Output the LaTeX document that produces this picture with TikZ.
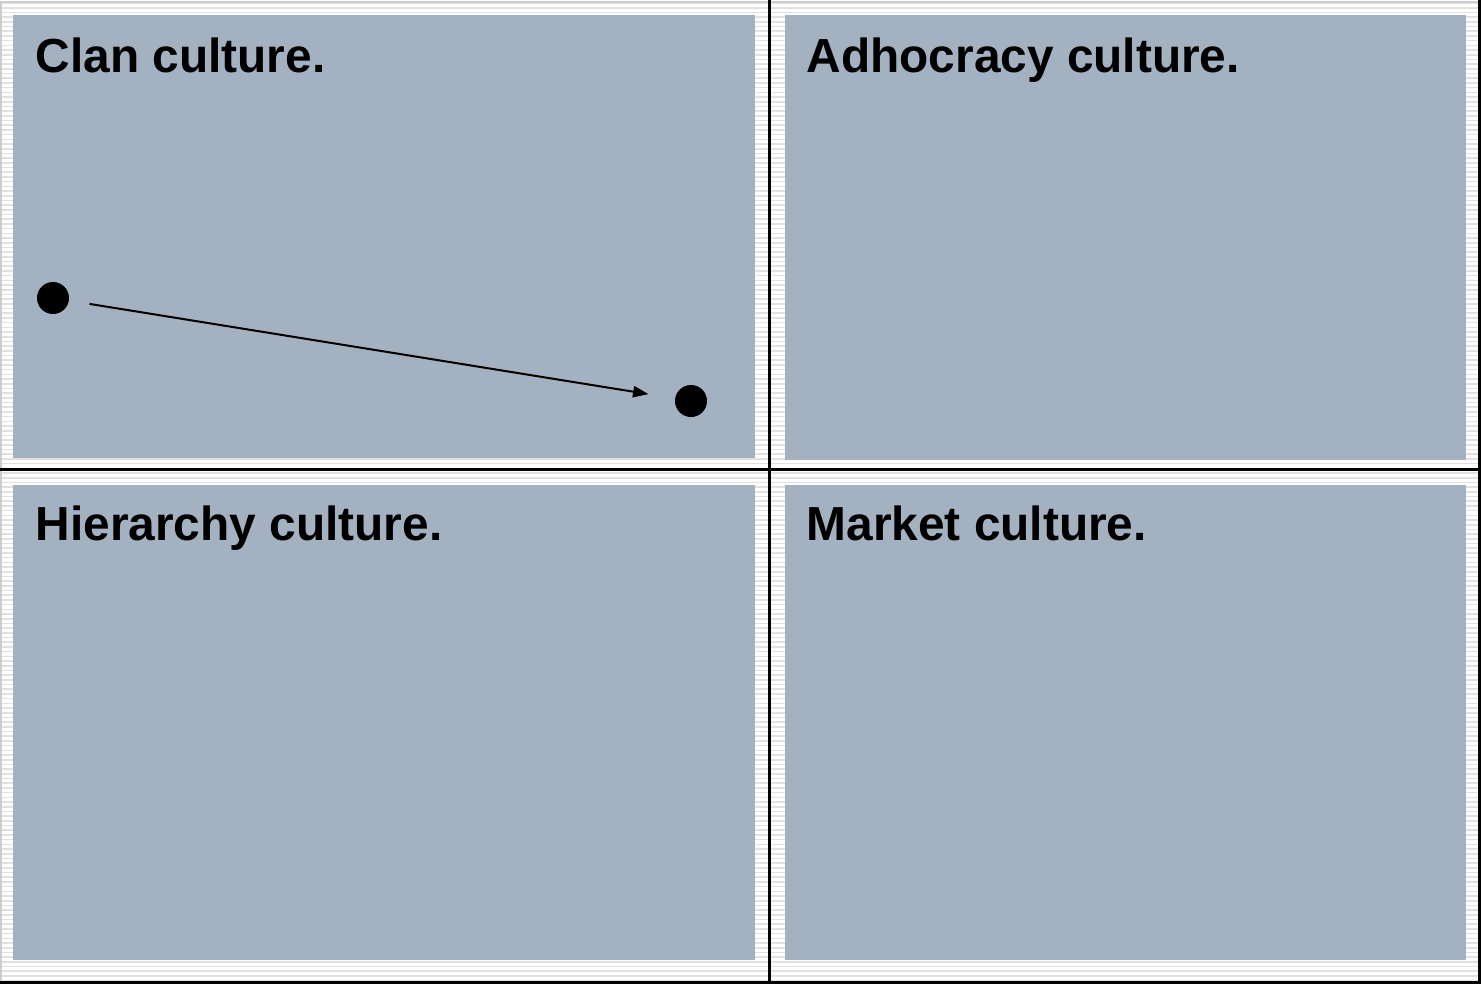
\documentclass[tikz,border=0pt]{standalone}
\usepackage{fontspec}
\setmainfont{Liberation Sans}
\usepackage{xcolor}
\usetikzlibrary{positioning, arrows.meta}
\usetikzlibrary{calc}

\definecolor{panelblue}{RGB}{163,177,193}
\definecolor{stripegray}{RGB}{225,225,225}

\tikzset{
	panel/.style={fill=panelblue, draw=none},
	culture/.style={anchor=base west, inner sep=0pt, font=\bfseries\fontsize{13.6}{16}\selectfont},
	dot/.style={circle, fill=black, inner sep=0pt, minimum size=0.32cm},
}

\begin{document}
\begin{tikzpicture}[x=0.01cm, y=-0.01cm]
	\useasboundingbox (0,0) rectangle (1481,984);
	\fill[white] (0,0) rectangle (1481,984);
	% striped background
	\foreach \y in {3,7.7,...,984}
	\draw[stripegray, line width=0.016cm] (0,\y) -- (1481,\y);
	% the four panels
	\fill[panel] (13,15) rectangle (755,458);
	\fill[panel] (785,15) rectangle (1466,460);
	\fill[panel] (13,485) rectangle (755,960);
	\fill[panel] (785,485) rectangle (1466,960);
	% grid lines
	\draw[gray!40, line width=0.02cm] (1,984) -- (1,2) -- (1481,2);
	\draw[black, line width=0.03cm] (1479.5,0) -- (1479.5,982.5) -- (0,982.5);
	\draw[black, line width=0.03cm] (769.5,0) -- (769.5,984);
	\draw[black, line width=0.03cm] (0,469) -- (1481,469);
	% draw node
	\node[culture] (clan) at (35,72) {Clan culture.};
	\node[culture] (adhoc) at (806,72) {Adhocracy culture.};
	\node[culture] (hier) at (35,540) {Hierarchy culture.};
	\node[culture] (market) at (806,540) {Market culture.};
	\node[dot] (start) at (53,298) {};
	\node[dot] (finish) at (691,401) {};
	\draw[line width=0.02cm, -{Triangle[length=4.4pt,width=3.2pt]}, shorten <=0.37cm, shorten >=0.43cm] (start.center) -- (finish.center);
\end{tikzpicture}
\end{document}
